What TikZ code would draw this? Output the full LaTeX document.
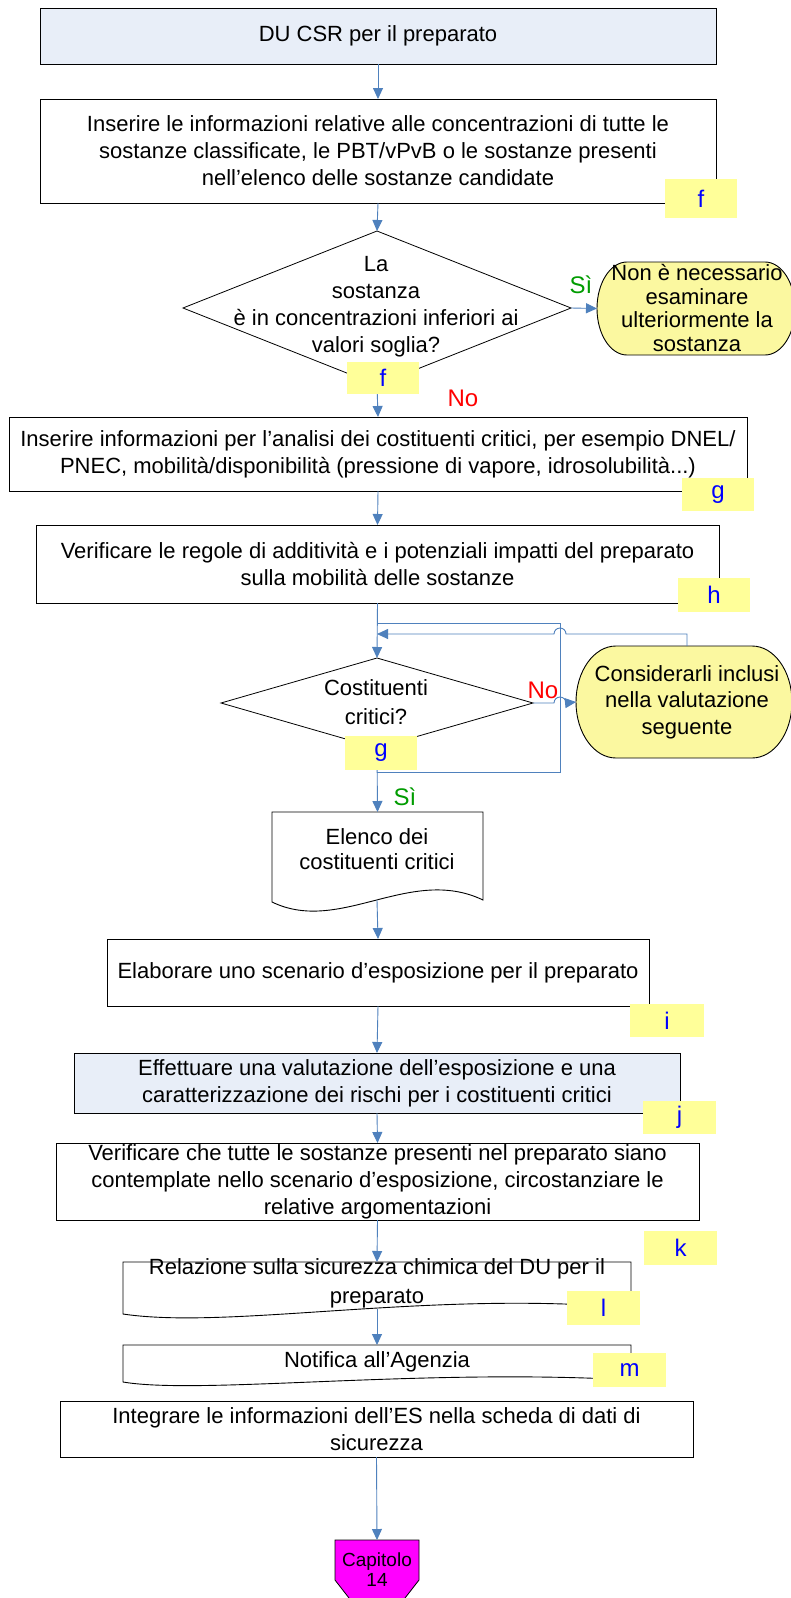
\documentclass[tikz,border=0pt]{standalone}
\usepackage{fontspec}
\setmainfont{Liberation Sans}
\usetikzlibrary{arrows.meta,shapes.geometric}
\definecolor{cblue}{HTML}{4F81BD}
\definecolor{lblue}{HTML}{E8EEF8}
\definecolor{lyel}{HTML}{FFFF99}
\definecolor{tyel}{HTML}{FBF8A0}
\definecolor{mag}{HTML}{FF00FF}
\definecolor{lblt}{HTML}{0000FF}
\definecolor{redno}{HTML}{FF0000}
\definecolor{greensi}{HTML}{009C00}
\newcommand\fsA{\fontsize{22}{27}\selectfont}
\newcommand\fsL{\fontsize{24}{24}\selectfont}
\newcommand\fsY{\fontsize{24}{24}\selectfont}
\begin{document}
\begin{tikzpicture}[x=1pt,y=1pt,
  box/.style={draw=black,line width=0.9pt,rectangle,inner sep=0pt,outer sep=0pt,align=center,font=\fsA},
  lab/.style={fill=lyel,text=lblt,inner sep=0pt,outer sep=0pt,minimum width=72pt,minimum height=34pt,font=\fsL},
  dia/.style={diamond,draw=black,line width=0.8pt,inner sep=0pt,outer sep=0pt},
  frame/.style={rectangle,inner sep=0pt,outer sep=0pt},
  conn/.style={draw=cblue,line width=0.9pt,-{Triangle[length=11pt,width=10pt]}},
  plain/.style={draw=cblue,line width=0.9pt},
  term/.style={fill=tyel,draw=black,line width=0.9pt},
  doc/.style={draw=black,line width=0.9pt,fill=white},
  txt/.style={inner sep=0pt,align=center,font=\fsA},
  yes/.style={text=greensi,font=\fsY,inner sep=0pt},
  no/.style={text=redno,font=\fsY,inner sep=0pt}]
\fill[white] (0,0) rectangle (791,-1598);
\useasboundingbox (0,0) rectangle (791,-1598);
\clip (0,0) rectangle (791,-1598);

% boxes
\node[box,fill=lblue,minimum width=676pt,minimum height=56pt] (b1) at (378,-36) {DU CSR per il preparato};
\node[box,minimum width=676pt,minimum height=104pt] (b2) at (378,-151) {Inserire le informazioni relative alle concentrazioni di tutte le\\sostanze classificate, le PBT/vPvB o le sostanze presenti\\nell’elenco delle sostanze candidate};
\node[dia,minimum width=388pt,minimum height=154pt] (d1) at (377,-308) {};
\node[txt] (d1t) at (376,-307) {La\\sostanza\\è in concentrazioni inferiori ai\\valori soglia?};
\node[frame,minimum width=198pt,minimum height=93pt] (s1) at (696,-308.5) {};
\filldraw[term] ([xshift=30pt]s1.north west) -- ([xshift=-30pt]s1.north east) arc[start angle=90,end angle=-90,x radius=30pt,y radius=46.5pt] -- ([xshift=30pt]s1.south west) arc[start angle=270,end angle=90,x radius=30pt,y radius=46.5pt] -- cycle;
\node[txt,font=\fontsize{22}{23.5}\selectfont] (s1t) at (697,-308) {Non è necessario\\esaminare\\ulteriormente la\\sostanza};
\node[box,minimum width=738pt,minimum height=74pt] (b3) at (378,-454) {Inserire informazioni per l’analisi dei costituenti critici, per esempio DNEL/\\PNEC, mobilità/disponibilità (pressione di vapore, idrosolubilità...)};
\node[box,minimum width=683pt,minimum height=78pt] (b4) at (377.5,-564) {Verificare le regole di additività e i potenziali impatti del preparato\\sulla mobilità delle sostanze};
\node[dia,minimum width=312pt,minimum height=90pt] (d2) at (377,-703) {};
\node[txt,font=\fontsize{22}{29}\selectfont] (d2t) at (376,-702) {Costituenti\\critici?};
\node[frame,minimum width=216pt,minimum height=112pt] (s2) at (684,-702) {};
\filldraw[term] ([xshift=40pt]s2.north west) -- ([xshift=-40pt]s2.north east) arc[start angle=90,end angle=-90,x radius=40pt,y radius=56pt] -- ([xshift=40pt]s2.south west) arc[start angle=270,end angle=90,x radius=40pt,y radius=56pt] -- cycle;
\node[txt,font=\fontsize{22}{26.5}\selectfont] (s2t) at (687,-702) {Considerarli inclusi\\nella valutazione\\seguente};
% document: Elenco
\node[frame,minimum width=211pt,minimum height=88pt] (e1) at (377.5,-856) {};
\coordinate (e1b) at (377,-900);
\filldraw[doc] (e1.north west) -- (e1.north east) -- (483,-900) .. controls (410,-865) and (340,-935) .. (272,-902) -- cycle;
\node[txt,font=\fontsize{22}{25}\selectfont] (e1t) at (377,-849.5) {Elenco dei\\costituenti critici};
\node[box,minimum width=542pt,minimum height=67pt] (b5) at (378,-972.5) {Elaborare uno scenario d’esposizione per il preparato};
\node[box,fill=lblue,minimum width=606pt,minimum height=60pt] (b6) at (377,-1083) {Effettuare una valutazione dell’esposizione e una\\caratterizzazione dei rischi per i costituenti critici};
\node[box,minimum width=643pt,minimum height=77pt] (b7) at (377.5,-1181.5) {Verificare che tutte le sostanze presenti nel preparato siano\\contemplate nello scenario d’esposizione, circostanziare le\\relative argomentazioni};
% document: Relazione
\node[frame,minimum width=508pt,minimum height=52pt] (r1) at (377,-1288) {};
\coordinate (r1b) at (377,-1309);
\filldraw[doc] (r1.north west) -- (r1.north east) -- (631,-1308) .. controls (430,-1290) and (230,-1330) .. (123,-1314) -- cycle;
\node[txt,font=\fontsize{22}{29}\selectfont] (r1t) at (377,-1283.5) {Relazione sulla sicurezza chimica del DU per il\\preparato};
% document: Notifica
\node[frame,minimum width=508pt,minimum height=37pt] (n1) at (377,-1363.5) {};
\filldraw[doc] (n1.north west) -- (n1.north east) -- (631,-1380) .. controls (420,-1368) and (200,-1395) .. (123,-1382) -- cycle;
\node[txt] (n1t) at (377,-1362) {Notifica all’Agenzia};
\node[box,minimum width=633pt,minimum height=56pt] (b8) at (376.5,-1429) {Integrare le informazioni dell’ES nella scheda di dati di\\sicurezza};
% off-page connector
\node[frame,minimum width=84pt,minimum height=40pt] (p) at (377,-1560) {};
\filldraw[fill=mag,draw=black,line width=0.8pt] (p.north west) -- (p.north east) -- (p.south east) -- (377,-1634) -- (p.south west) -- cycle;
\node[inner sep=0pt,align=center,font=\fontsize{19}{20}\selectfont] (pt) at (377,-1570) {Capitolo\\14};

% connectors
\draw[conn] (b1.south) -- (b2.north);
\draw[conn] (b2.south) -- (d1.north);
\draw[conn] (d1.east) -- (s1.west);
\draw[conn] (d1.south) -- (b3.north);
\draw[conn] (b3.south) -- (b4.north);
\draw[conn] (b4.south) -- (d2.north);
\coordinate (L1) at (377,-623);
\coordinate (L2) at (560,-623);
\coordinate (L3) at (560,-772);
\coordinate (L4) at (377,-772);
\draw[plain] (L1) -- (L2) -- (L3) -- (L4);
\coordinate (r0) at (687,-634);
\draw[conn] (s2.north -| r0) -- (r0) -- (566,-634) arc[start angle=0,end angle=180,radius=6pt] -- (d2.north |- r0);
\draw[conn] (d2.east) -- (554,-703) arc[start angle=180,end angle=0,radius=6pt] -- (s2.west);
\draw[conn] (d2.south) -- (e1.north);
\draw[conn] (e1b) -- (b5.north);
\draw[conn] (b5.south) -- (b6.north);
\draw[conn] (b6.south) -- (b7.north);
\draw[conn] (b7.south) -- (r1.north);
\draw[conn] (r1b) -- (n1.north);
\draw[conn] (b8.south) -- (p.north);

% labels
\node[lab,minimum height=39pt] (lf1) at (701,-198.5) {f};
\node[lab,minimum height=32pt] (lf2) at (383,-378) {f};
\node[lab,minimum height=33pt] (lg1) at (718,-494.5) {g};
\node[lab] (lh) at (714,-595) {h};
\node[lab] (lg2) at (381,-753) {g};
\node[lab,minimum width=74pt,minimum height=33pt] (li) at (667,-1020.5) {i};
\node[lab,minimum width=73pt,minimum height=33pt] (lj) at (679.5,-1117.5) {j};
\node[lab,minimum width=73pt] (lk) at (680.5,-1248) {k};
\node[lab,minimum width=73pt] (ll) at (603.5,-1308) {l};
\node[lab,minimum width=73pt] (lm) at (629.5,-1370) {m};
\node[yes] (si1) at (581,-285) {Sì};
\node[no] (no1) at (463,-398) {No};
\node[no] (no2) at (543,-690) {No};
\node[yes] (si2) at (405,-797) {Sì};
\end{tikzpicture}
\end{document}
